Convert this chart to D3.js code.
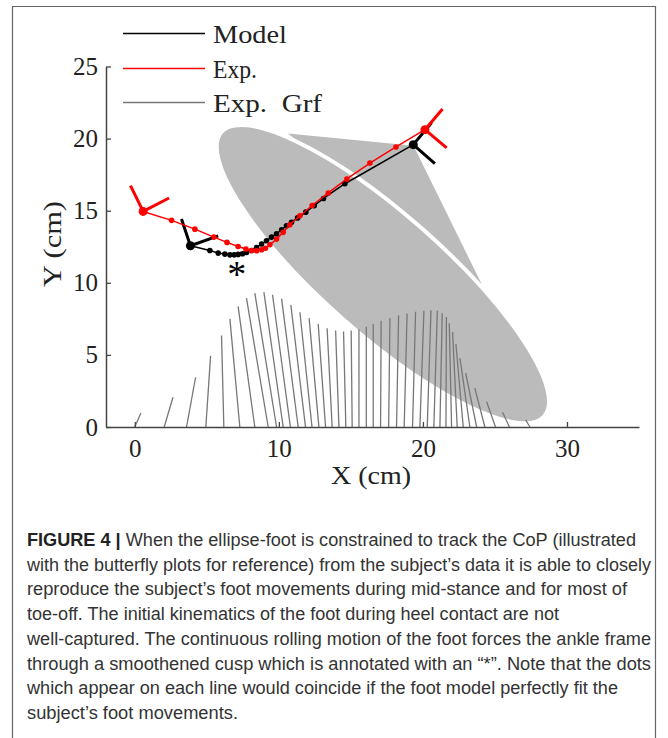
<!DOCTYPE html>
<html><head><meta charset="utf-8">
<script src="https://cdn.jsdelivr.net/npm/d3@7"></script>
<style>
html,body{margin:0;padding:0;background:#fff;}
svg{display:block;}
</style>
</head><body>
<svg id="chart" width="668" height="738"></svg>
<script>
// ---------- data ----------
const xTicks = [0, 10, 20, 30];
const yTicks = [0, 5, 10, 15, 20, 25];
const legendLabels = ["Model", "Exp.", "Exp.  Grf"];

// Experimental ground reaction force "butterfly" lines (base x on y=0, tip x, tip y), cm
const grfBaseX = [0.0, 2.04, 3.59, 4.93, 6.18, 7.29, 8.33, 9.26, 9.84, 10.3, 10.8, 11.34, 11.85, 12.3, 12.78, 13.24, 13.7, 14.17, 14.65, 15.09, 15.56, 16.07, 16.55, 17.06, 17.62, 18.17, 18.7, 19.28, 19.79, 20.3, 20.76, 21.18, 21.6, 21.99, 22.38, 22.8, 23.26, 23.73, 24.3, 25.04, 26.0, 27.43];
const grfTipX  = [0.42, 2.65, 4.22, 5.26, 6.02, 6.6, 7.17, 7.75, 8.33, 8.96, 9.56, 10.19, 10.83, 11.46, 12.1, 12.73, 13.35, 13.94, 14.49, 15.02, 15.56, 16.07, 16.55, 17.1, 17.71, 18.31, 18.9, 19.49, 20.07, 20.56, 21.0, 21.34, 21.63, 21.83, 22.06, 22.29, 22.57, 22.97, 23.6, 24.42, 25.53, 27.13];
const grfTipY  = [0.97, 2.06, 3.45, 4.93, 6.34, 7.5, 8.36, 8.93, 9.28, 9.35, 9.17, 8.89, 8.47, 7.96, 7.55, 7.15, 6.85, 6.69, 6.62, 6.69, 6.78, 6.96, 7.15, 7.36, 7.55, 7.73, 7.87, 7.99, 8.06, 8.1, 8.06, 7.89, 7.62, 7.2, 6.58, 5.76, 4.77, 3.73, 2.69, 1.76, 1.02, 0.49];

// Model ankle trajectory (cm)
const modelX = [3.86, 5.21, 5.79, 6.25, 6.6, 6.9, 7.17, 7.47, 7.75, 8.1, 8.45, 8.8, 9.14, 9.49, 9.84, 10.19, 10.53, 10.88, 11.3, 11.87, 12.45, 13.1, 14.58, 19.33];
const modelY = [12.57, 12.24, 12.06, 11.99, 11.94, 11.94, 11.97, 12.01, 12.1, 12.24, 12.45, 12.69, 12.92, 13.17, 13.4, 13.68, 13.96, 14.2, 14.5, 14.9, 15.35, 15.85, 16.87, 19.58];

// Experimental ankle trajectory (cm)
const expX = [0.58, 2.55, 4.17, 5.49, 6.4, 7.17, 7.71, 8.1, 8.45, 8.8, 9.07, 9.38, 9.84, 10.3, 10.76, 11.46, 12.31, 13.43, 14.72, 16.32, 18.13, 20.14];
const expY = [14.95, 14.33, 13.72, 13.17, 12.8, 12.52, 12.34, 12.24, 12.22, 12.29, 12.4, 12.64, 13.03, 13.5, 14.03, 14.65, 15.36, 16.23, 17.2, 18.3, 19.42, 20.62];

// Foot frame axes at first and last frame: [ankle, axis tip 1, axis tip 2]
const modelFrameStart = [[3.86, 12.57], [3.24, 14.42], [5.79, 13.26]];
const modelFrameEnd   = [[19.33, 19.58], [20.6, 21.1], [20.83, 18.26]];
const expFrameStart   = [[0.58, 14.95], [-0.3, 16.74], [2.38, 15.88]];
const expFrameEnd     = [[20.14, 20.62], [21.36, 22.05], [21.65, 19.35]];

// Ellipse foot (centre, semi-axes in cm, rotation in degrees) and its ankle wedge
const footCentre = [17.22, 10.6];
const footSemiAxes = [14.93, 4.17];
const footAngle = -41.4;
const wedge = [[10.63, 20.35], [19.35, 19.5], [24.1, 9.86]];

const cuspMark = [7.08, 11.04];

const captionLines = [
  ["FIGURE 4 | ", "When the ellipse-foot is constrained to track the CoP (illustrated"],
  ["", "with the butterfly plots for reference) from the subject\u2019s data it is able to closely"],
  ["", "reproduce the subject\u2019s foot movements during mid-stance and for most of"],
  ["", "toe-off. The initial kinematics of the foot during heel contact are not"],
  ["", "well-captured. The continuous rolling motion of the foot forces the ankle frame"],
  ["", "through a smoothened cusp which is annotated with an \u201c*\u201d. Note that the dots"],
  ["", "which appear on each line would coincide if the foot model perfectly fit the"],
  ["", "subject\u2019s foot movements."]
];
const captionWidths = [609, 624, 600, 532, 624, 624, 591, 211];

// ---------- drawing ----------
const svg = d3.select("#chart");
const serif = "'Liberation Serif', 'DejaVu Serif', serif";

const x = d3.scaleLinear().domain([-2, 35]).range([106, 639]);
const y = d3.scaleLinear().domain([0, 25]).range([427, 66.5]);
const pxPerCm = x(1) - x(0);

// outer frame
svg.append("path")
  .attr("d", "M12.5,745 V6.5 H655.5 V745")
  .attr("fill", "none").attr("stroke", "#666").attr("stroke-width", 1.2);

// wedge
svg.append("path")
  .attr("d", d3.line().x(d => x(d[0])).y(d => y(d[1]))(wedge) + "Z")
  .attr("fill", "#bbbbbb");

// ellipse foot
svg.append("ellipse")
  .attr("transform", `translate(${x(footCentre[0])},${y(footCentre[1])}) rotate(${-footAngle})`)
  .attr("rx", footSemiAxes[0] * pxPerCm)
  .attr("ry", footSemiAxes[1] * pxPerCm)
  .attr("fill", "#bbbbbb")
  .attr("stroke", "#fff").attr("stroke-width", 4);

// GRF lines
svg.append("g").selectAll("line").data(grfBaseX).join("line")
  .attr("x1", (d) => x(d)).attr("y1", y(0))
  .attr("x2", (d, i) => x(grfTipX[i])).attr("y2", (d, i) => y(grfTipY[i]))
  .attr("stroke", "#777").attr("stroke-width", 1.3);

// axes
const xAxis = d3.axisBottom(x).tickValues(xTicks).tickSizeInner(-5).tickSizeOuter(0).tickPadding(12);
const yAxis = d3.axisLeft(y).tickValues(yTicks).tickSizeInner(-5).tickSizeOuter(0).tickPadding(8);
const gx = svg.append("g").attr("transform", `translate(0,${y(0)})`).call(xAxis);
const gy = svg.append("g").attr("transform", `translate(${x(-2)},0)`).call(yAxis);
[gx, gy].forEach(g => {
  g.select(".domain").attr("stroke", "#444").attr("stroke-width", 1.5);
  g.selectAll(".tick line").attr("stroke", "#444").attr("stroke-width", 1.3);
  g.selectAll(".tick text").attr("font-family", serif).attr("font-size", 25).attr("fill", "#222");
});

svg.append("text").attr("x", 371).attr("y", 484)
  .attr("text-anchor", "middle").attr("font-family", serif).attr("font-size", 25).attr("fill", "#222")
  .attr("textLength", 80).attr("lengthAdjust", "spacingAndGlyphs")
  .text("X (cm)");
svg.append("text").attr("transform", "translate(61,244) rotate(-90)")
  .attr("text-anchor", "middle").attr("font-family", serif).attr("font-size", 25).attr("fill", "#222")
  .attr("textLength", 86).attr("lengthAdjust", "spacingAndGlyphs")
  .text("Y (cm)");

// trajectories
const line = d3.line().x(d => x(d[0])).y(d => y(d[1]));
function drawSeries(xs, ys, frameStart, frameEnd, color) {
  const pts = xs.map((v, i) => [v, ys[i]]);
  const g = svg.append("g");
  [frameStart, frameEnd].forEach(f => {
    g.append("path").attr("d", line([f[1], f[0], f[2]]))
      .attr("fill", "none").attr("stroke", color).attr("stroke-width", 3).attr("stroke-linejoin", "round");
  });
  g.append("path").attr("d", line(pts)).attr("fill", "none").attr("stroke", color).attr("stroke-width", 1.5);
  g.selectAll("circle").data(pts).join("circle")
    .attr("cx", d => x(d[0])).attr("cy", d => y(d[1]))
    .attr("r", (d, i) => (i === 0 || i === pts.length - 1) ? 4.5 : 2.8)
    .attr("fill", color);
}
drawSeries(modelX, modelY, modelFrameStart, modelFrameEnd, "#000");
drawSeries(expX, expY, expFrameStart, expFrameEnd, "#ff0000");

// cusp annotation
svg.append("text").attr("x", x(cuspMark[0])).attr("y", y(cuspMark[1]) + 19)
  .attr("text-anchor", "middle").attr("font-family", serif).attr("font-size", 38).attr("fill", "#000")
  .text("*");

// legend
const legendColors = ["#000", "#ff0000", "#777"];
const legendY = [33.5, 68.5, 102.5];
const legendWidths = [74, 44, 109];
legendLabels.forEach((lab, i) => {
  svg.append("line").attr("x1", 123).attr("x2", 205).attr("y1", legendY[i]).attr("y2", legendY[i])
    .attr("stroke", legendColors[i]).attr("stroke-width", 1.5);
  svg.append("text").attr("x", 213).attr("y", legendY[i] + 9)
    .attr("font-family", serif).attr("font-size", 25).attr("fill", "#222")
    .attr("textLength", legendWidths[i]).attr("lengthAdjust", "spacingAndGlyphs")
    .style("white-space", "pre").text(lab);
});

// caption
const cap = svg.append("g");
captionLines.forEach((l, i) => {
  const t = cap.append("text").attr("x", 27).attr("y", 546 + i * 24.7)
    .attr("font-family", "'Liberation Sans', Arial, sans-serif").attr("font-size", 17.5).attr("fill", "#333")
    .attr("textLength", captionWidths[i]).attr("lengthAdjust", "spacingAndGlyphs");
  if (l[0]) t.append("tspan").attr("font-weight", "bold").attr("fill", "#222").text(l[0]);
  t.append("tspan").text(l[1]);
});
</script>
</body></html>
